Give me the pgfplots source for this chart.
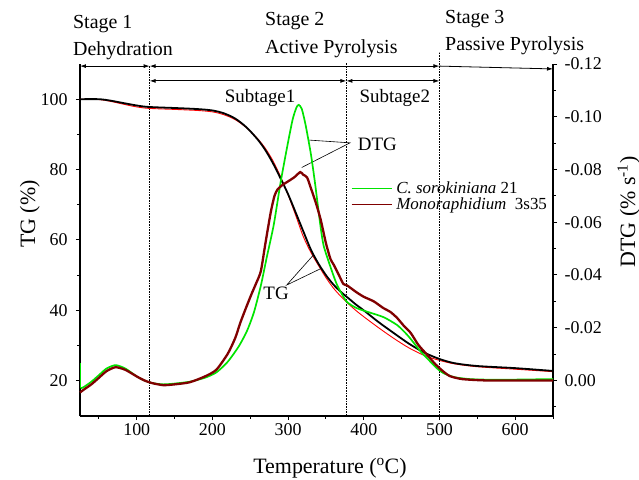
\documentclass[border=0pt]{standalone}
\usepackage{pgfplots}
\pgfplotsset{compat=1.18}
\usepackage{fontspec}
\setmainfont{Liberation Serif}
\usetikzlibrary{arrows.meta}

\definecolor{cgreen}{RGB}{0,228,0}
\definecolor{cwine}{RGB}{128,0,0}
\newcommand{\stagefont}{\fontsize{20}{22}\selectfont}
\newcommand{\notefont}{\fontsize{19}{21}\selectfont}

\tikzset{
  stagearrow/.style={{Latex[length=6bp,width=4bp]}-{Latex[length=6bp,width=4bp]}, line width=0.8bp},
  stageline/.style={densely dotted, line width=0.6bp},
}

\begin{document}
\begin{tikzpicture}
\path[use as bounding box] (-80bp,-64bp) rectangle (559bp,416bp);

% ---- TG axis (left)
\begin{axis}[
  at={(0,0)}, anchor=south west,
  scale only axis, width=473bp, height=352bp,
  xmin=25, xmax=650, ymin=10, ymax=110,
  axis x line*=bottom, axis y line*=left,
  axis line style={line width=1.1bp},
  every tick/.style={line width=1bp, black},
  tick align=outside, major tick length=4bp, minor tick length=2.5bp,
  xtick={100,200,300,400,500,600}, minor xtick={50,150,250,350,450,550,650},
  ytick={20,40,60,80,100}, minor ytick={30,50,70,90},
  tick label style={font=\fontsize{18}{20}\selectfont},
  yticklabel style={xshift=-5bp},
  /pgf/number format/assume math mode=true,
  xlabel={Temperature (\textsuperscript{o}C)},
  ylabel={TG (\%)},
  label style={font=\fontsize{22}{24}\selectfont},
  xlabel style={at={(axis description cs:0.5285,-0.162)}, anchor=base},
  ylabel style={at={(axis description cs:-0.0951,0.574)}, anchor=base},
  clip=false,
]
% Monoraphidium TG (red)
\addplot[red, line width=0.9bp, smooth] coordinates {
(25,100) (50,99.9) (65,99.4) (80,98.7) (95,98.0) (110,97.5) (125,97.3)
(150,97.1) (180,96.8) (200,96.4) (215,95.6) (230,94.2) (245,91.9)
(260,88.7) (270,86.0) (280,82.5) (290,78.0) (300,72.8) (310,67.0)
(320,61.0) (330,56.5) (340,52.8) (350,49.3) (360,46.3) (370,43.9)
(380,41.8) (390,39.9) (400,38.2) (420,35.0) (440,32.0) (460,29.3)
(480,27.2) (500,25.8) (520,24.8) (550,24.0) (600,23.3) (650,22.6)
};
% C. sorokiniana TG (black)
\addplot[black, line width=1.8bp, smooth] coordinates {
(25,100) (50,100) (65,99.6) (80,99.0) (95,98.4) (110,97.9) (125,97.7)
(150,97.5) (180,97.2) (200,96.8) (215,96.0) (230,94.5) (245,92.0)
(260,88.5) (270,85.5) (280,81.8) (290,77.5) (300,73.0) (310,67.8)
(320,62.5) (330,57.3) (340,53.3) (350,50.0) (360,47.3) (370,45.2)
(380,43.4) (390,41.6) (400,40.0) (420,36.6) (440,33.5) (460,30.5)
(480,28.0) (500,26.2) (520,25.0) (550,24.2) (600,23.6) (650,22.8)
};

% stage boundaries
\draw[stageline] (axis cs:117,10) -- (axis cs:117,109.4);
\draw[stageline] (axis cs:377,10) -- (axis cs:377,110.6);
\draw[stageline] (axis cs:500,10) -- (axis cs:500,113.4);

% stage arrows
\draw[stagearrow] (axis cs:25,109.4) -- (axis cs:117,109.4);
\draw[stagearrow] (axis cs:117,109.4) -- (axis cs:500,109.4);
\draw[stagearrow] (axis cs:117,105.2) -- (axis cs:377,105.2);
\draw[stagearrow] (axis cs:377,105.2) -- (axis cs:500,105.2);
\draw[-{Latex[length=6bp,width=4bp]}, line width=0.8bp] (axis cs:500,109.4) -- (axis cs:650,108.6);

% stage texts
\node[anchor=base west, font=\stagefont, inner sep=0pt] at (axis cs:15.7,120.2) {Stage 1};
\node[anchor=base west, font=\stagefont, inner sep=0pt] at (axis cs:15.7,112.3) {Dehydration};
\node[anchor=base west, font=\stagefont, inner sep=0pt] at (axis cs:269.5,120.8) {Stage 2};
\node[anchor=base west, font=\stagefont, inner sep=0pt] at (axis cs:269.5,113.1) {Active Pyrolysis};
\node[anchor=base west, font=\stagefont, inner sep=0pt] at (axis cs:507.3,121.4) {Stage 3};
\node[anchor=base west, font=\stagefont, inner sep=0pt] at (axis cs:507.3,113.7) {Passive Pyrolysis};
\node[anchor=base, font=\notefont, inner sep=0pt] at (axis cs:263,99.2) {Subtage1};
\node[anchor=base, font=\notefont, inner sep=0pt] at (axis cs:441,99.2) {Subtage2};

% curve labels
\node[anchor=base west, font=\notefont, inner sep=0pt] at (axis cs:392,85.4) {DTG};
\draw[line width=0.6bp] (axis cs:326.7,88.4) -- (axis cs:381.8,87.6) -- (axis cs:318,80.6);
\node[anchor=base west, font=\notefont, inner sep=0pt] at (axis cs:267.2,43.0) {TG};
\draw[line width=0.6bp] (axis cs:333.3,55.7) -- (axis cs:298.1,47.2) -- (axis cs:344.4,52.0);
\end{axis}

% ---- DTG axis (right)
\begin{axis}[
  at={(0,0)}, anchor=south west,
  scale only axis, width=473bp, height=352bp,
  xmin=25, xmax=650, ymin=-0.12, ymax=0.0135, y dir=reverse,
  axis x line=none, axis y line*=right,
  axis line style={line width=1.1bp},
  every tick/.style={line width=1bp, black},
  tick align=outside, major tick length=4bp, minor tick length=2.5bp,
  ytick={-0.12,-0.1,-0.08,-0.06,-0.04,-0.02,0},
  minor ytick={-0.11,-0.09,-0.07,-0.05,-0.03,-0.01,0.01},
  yticklabel style={font=\fontsize{18}{20}\selectfont, xshift=4bp,
    /pgf/number format/.cd, fixed, fixed zerofill, precision=2},
  /pgf/number format/assume math mode=true,
  ylabel={DTG (\% s\textsuperscript{-1})},
  ylabel style={font=\fontsize{22}{24}\selectfont,
    at={(axis description cs:1.1734,0.5795)}, anchor=base},
  clip=false,
  legend cell align=left,
  legend image code/.code={\draw[#1, line width=1.4bp] (0bp,0bp) -- (40bp,0bp);},
  legend style={at={(rel axis cs:0.5729,0.6676)}, anchor=north west,
    draw=none, fill=none, inner sep=0pt, outer sep=0pt,
    row sep=1bp, column sep=4bp,
    font=\fontsize{17}{18}\selectfont,
    nodes={inner sep=0pt, text height=12.5bp, text depth=2.5bp}},
]
% C. sorokiniana 21
\addplot[cgreen, line width=1.7bp, smooth, tension=0.4] coordinates {
(26,0.003) (30,0.0025) (40,0.0005) (50,-0.002) (60,-0.0045) (72,-0.0058)
(85,-0.0045) (100,-0.0015) (110,0.0) (120,0.001) (135,0.0015) (150,0.0012)
(170,0.0005) (190,-0.001) (205,-0.003) (220,-0.007) (235,-0.013)
(246,-0.019) (255,-0.026) (264,-0.036) (272,-0.047) (281,-0.059)
(290,-0.075) (299,-0.089) (306,-0.099) (311,-0.1035) (314,-0.1045)
(318,-0.103) (323,-0.097) (330,-0.086) (335,-0.076) (339,-0.067)
(343,-0.058) (347,-0.051) (356,-0.043) (365,-0.036) (377,-0.030)
(390,-0.0275) (405,-0.026) (426,-0.024) (444,-0.021) (455,-0.018)
(462,-0.0157) (475,-0.011) (484,-0.0083) (495,-0.005) (505,-0.0028)
(520,-0.0012) (540,-0.0005) (560,-0.0003) (600,-0.0003) (650,-0.0005)
};
\addlegendentry{\textit{C. sorokiniana} 21}
% Monoraphidium 3s35
\addplot[cwine, line width=2.3bp, smooth, tension=0.4] coordinates {
(25,0.0046) (30,0.0035) (40,0.0015) (50,-0.001) (60,-0.0035) (72,-0.005)
(85,-0.004) (100,-0.0015) (110,0.0) (120,0.001) (135,0.0018) (150,0.0015)
(170,0.0007) (190,-0.0015) (205,-0.004) (220,-0.010) (230,-0.016)
(237,-0.022) (245,-0.028) (252,-0.033) (258,-0.037) (264,-0.0415)
(270,-0.052) (277,-0.0637) (282,-0.070) (286,-0.0724) (292,-0.074)
(300,-0.0755) (308,-0.077) (316,-0.079) (320,-0.078) (325,-0.077)
(330,-0.073) (337,-0.067) (343,-0.061) (350,-0.052) (356,-0.046)
(360,-0.044) (367,-0.040) (373,-0.0366) (378,-0.036) (390,-0.0335)
(400,-0.0317) (413,-0.030) (426,-0.0274) (435,-0.026) (444,-0.0237)
(452,-0.021) (462,-0.018) (472,-0.0135) (484,-0.0096) (495,-0.006)
(505,-0.0034) (514,-0.0016) (530,-0.0005) (560,0.0) (600,0.0) (650,0.0)
};
\addlegendentry{\textit{Monoraphidium}~~3s35}
% start-up spike of the green record
\addplot[cgreen, line width=1.2bp, forget plot] coordinates {(25.5,-0.0065) (25.5,0.003)};
\end{axis}
\end{tikzpicture}
\end{document}
